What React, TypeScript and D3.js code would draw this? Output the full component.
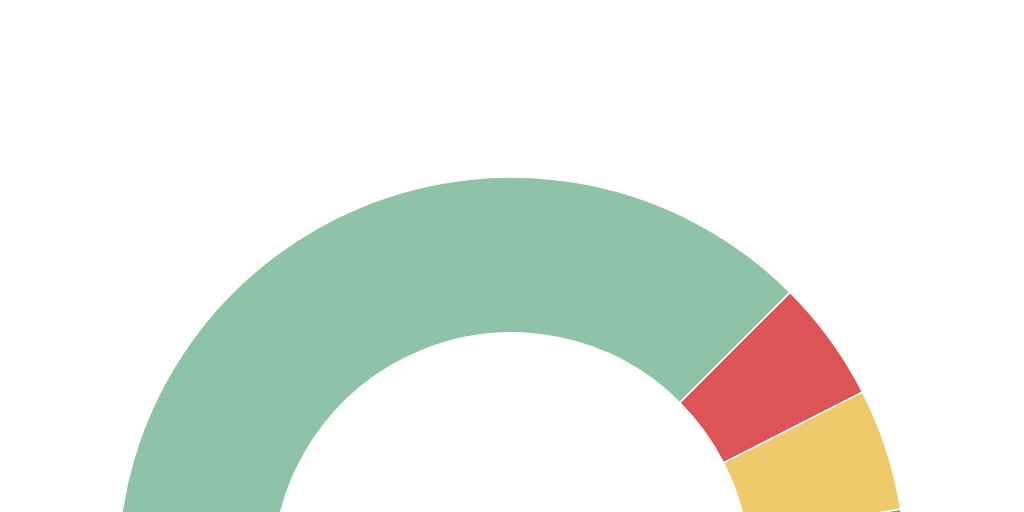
import React from "react";
import * as d3 from "d3";

const categories = ["A", "B", "C", "D"];
const values = [75, 10, 10, 5];
const colors = ["#8fc3a8", "#dc5456", "#eeca6a", "#4e9fd4"];

export default function App() {
  const width = 1024;
  const height = 512;
  const cx = 511.5;
  const cy = 571;
  const outerR = 394;
  const innerR = 238;

  const pie = d3
    .pie<number>()
    .sort(null)
    .startAngle(-Math.PI / 2)
    .endAngle(Math.PI / 2)
    .padAngle(0);
  const arcs = pie(values);
  const arc = d3.arc<d3.PieArcDatum<number>>().innerRadius(innerR).outerRadius(outerR);

  return (
    <svg
      width={width}
      height={height}
      style={{ position: "fixed", left: 0, top: 0, background: "#ffffff" }}
    >
      <g transform={`translate(${cx},${cy})`}>
        {arcs.map((a, i) => (
          <path
            key={categories[i]}
            d={arc(a) || ""}
            fill={colors[i]}
            stroke="#ffffff"
            strokeWidth={1.5}
          />
        ))}
      </g>
    </svg>
  );
}
